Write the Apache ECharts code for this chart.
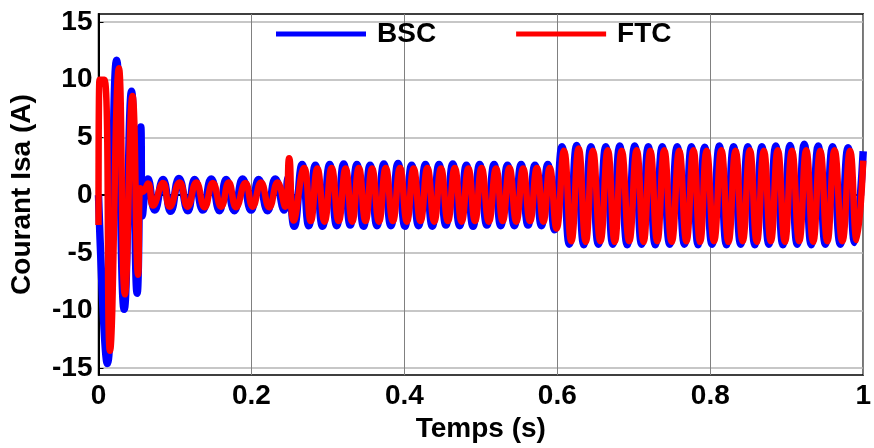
<!DOCTYPE html>
<html>
<head>
<meta charset="utf-8">
<script src="https://cdn.jsdelivr.net/npm/echarts@6.0.0/dist/echarts.min.js"></script>
<style>
  html, body { margin: 0; padding: 0; background: #fff; }
  #chart { width: 874px; height: 448px; }
</style>
</head>
<body>
<div id="chart"></div>
<script>
// valeurs : [temps (s), courant (A)], pics et creux
var yTicks = [-15, -10, -5, 0, 5, 10, 15];
var seriesNames = ['BSC', 'FTC'];

// BSC (bleu)
var bscStart = [[0, 0], [0.0115, -14.6], [0.0237, 11.7], [0.0336, -9.9], [0.0432, 9.0],
  [0.0505, -8.5], [0.0553, 5.9], [0.0573, -1.8]];
var bscNoLoad = [[0.0648, 1.4], [0.0736, -1.3], [0.0844, 1.35], [0.0944, -1.4], [0.1052, 1.45],
  [0.1169, -1.35], [0.1257, 1.35], [0.1365, -1.3], [0.1474, 1.4], [0.1582, -1.35], [0.1669, 1.35],
  [0.1777, -1.35], [0.1885, 1.4], [0.1995, -1.3], [0.2094, 1.35], [0.2211, -1.35], [0.2311, 1.4],
  [0.2428, -1.3]];
var bscLoad1 = [[0.2480, 1.5], [0.2559, -2.7], [0.2663, 2.65], [0.2750, -2.65], [0.2836, 2.6],
  [0.2930, -2.7], [0.3023, 2.65], [0.3115, -2.65], [0.3206, 2.7], [0.3292, -2.6], [0.3379, 2.65],
  [0.3466, -2.7], [0.3552, 2.6], [0.3642, -2.65], [0.3731, 2.7], [0.3824, -2.65], [0.3917, 2.75],
  [0.4007, -2.7], [0.4095, 2.6], [0.4185, -2.65], [0.4275, 2.65], [0.4365, -2.7], [0.4453, 2.65],
  [0.4543, -2.6], [0.4633, 2.7], [0.4723, -2.65], [0.4811, 2.6], [0.4898, -2.7], [0.4984, 2.65],
  [0.5079, -2.6], [0.5173, 2.65], [0.5260, -2.65], [0.5348, 2.6], [0.5438, -2.65], [0.5527, 2.65],
  [0.5617, -2.6], [0.5707, 2.6], [0.5792, -2.65], [0.5875, 2.65], [0.5964, -3.0]];
var bscLoad2 = [[0.6061, 4.2], [0.6157, -4.25], [0.6253, 4.3], [0.6346, -4.3], [0.6439, 4.2],
  [0.6537, -4.25], [0.6634, 4.2], [0.6725, -4.25], [0.6816, 4.25], [0.6914, -4.3], [0.7012, 4.25],
  [0.7102, -4.25], [0.7190, 4.2], [0.7281, -4.3], [0.7372, 4.2], [0.7470, -4.25], [0.7568, 4.2],
  [0.7662, -4.25], [0.7754, 4.2], [0.7841, -4.3], [0.7927, 4.15], [0.8023, -4.25], [0.8119, 4.25],
  [0.8212, -4.3], [0.8305, 4.2], [0.8398, -4.25], [0.8492, 4.2], [0.8583, -4.3], [0.8675, 4.2],
  [0.8766, -4.25], [0.8857, 4.25], [0.8950, -4.3], [0.9043, 4.3], [0.9137, -4.25], [0.9229, 4.4],
  [0.9320, -4.3], [0.9412, 4.25], [0.9505, -4.25], [0.9599, 4.2], [0.9701, -4.25], [0.9802, 4.1],
  [0.9889, -4.1], [1.0, 3.8]];

// FTC (rouge)
var ftcStart = [[0, -2.6], [0.0013, 10.0], [0.0078, 10.0], [0.0150, -13.5], [0.0267, 11.0],
  [0.0345, -8.6], [0.0445, 8.6], [0.0518, -6.9], [0.0547, 0.6], [0.0580, 0.3]];
var ftcNoLoad = [[0.0648, 1.0], [0.0714, -0.9], [0.0844, 1.05], [0.0931, -1.0], [0.1061, 1.1],
  [0.1165, -1.0], [0.1279, 1.1], [0.1387, -1.05], [0.1495, 1.05], [0.1604, -1.0], [0.1703, 1.1],
  [0.1799, -1.05], [0.1921, 1.05], [0.2016, -1.0], [0.2125, 1.1], [0.2233, -1.05], [0.2341, 1.1],
  [0.2441, -1.0]];
var ftcLoad1 = [[0.2493, 3.2], [0.2552, -2.2], [0.2689, 2.35], [0.2776, -2.25], [0.2862, 2.3],
  [0.2956, -2.3], [0.3049, 2.35], [0.3141, -2.25], [0.3232, 2.3], [0.3318, -2.3], [0.3405, 2.35],
  [0.3492, -2.25], [0.3578, 2.3], [0.3668, -2.3], [0.3757, 2.35], [0.3850, -2.25], [0.3943, 2.35],
  [0.4033, -2.3], [0.4121, 2.3], [0.4211, -2.25], [0.4301, 2.35], [0.4391, -2.3], [0.4479, 2.3],
  [0.4569, -2.25], [0.4659, 2.35], [0.4749, -2.3], [0.4837, 2.3], [0.4924, -2.25], [0.5010, 2.35],
  [0.5105, -2.3], [0.5199, 2.3], [0.5286, -2.25], [0.5374, 2.35], [0.5464, -2.3], [0.5553, 2.3],
  [0.5643, -2.25], [0.5733, 2.35], [0.5818, -2.3], [0.5901, 2.35], [0.5990, -2.9]];
var ftcLoad2 = [[0.6087, 3.85], [0.6183, -4.0], [0.6279, 4.05], [0.6372, -4.05], [0.6465, 3.85],
  [0.6563, -4.0], [0.6660, 3.9], [0.6751, -4.05], [0.6842, 3.85], [0.6940, -4.0], [0.7038, 3.9],
  [0.7128, -4.05], [0.7216, 3.85], [0.7307, -4.0], [0.7398, 3.9], [0.7496, -4.05], [0.7594, 3.85],
  [0.7688, -4.0], [0.7780, 3.9], [0.7867, -4.05], [0.7953, 3.85], [0.8049, -4.0], [0.8145, 3.9],
  [0.8238, -4.05], [0.8331, 3.85], [0.8424, -4.0], [0.8518, 3.9], [0.8609, -4.05], [0.8701, 3.85],
  [0.8792, -4.0], [0.8883, 3.9], [0.8976, -4.05], [0.9069, 3.85], [0.9163, -4.0], [0.9255, 3.9],
  [0.9346, -4.05], [0.9438, 3.85], [0.9531, -4.0], [0.9625, 3.9], [0.9727, -4.0], [0.9828, 3.85],
  [0.9915, -3.9], [1.0, 3.0]];

var bscData = bscStart.concat(bscNoLoad, bscLoad1, bscLoad2);
var ftcData = ftcStart.concat(ftcNoLoad, ftcLoad1, ftcLoad2);

var font = 'Liberation Sans, Arial, sans-serif';
var chart = echarts.init(document.getElementById('chart'));
chart.setOption({
  animation: false,
  backgroundColor: '#fff',
  grid: {
    left: 98.5, right: 7.5, top: 14, bottom: 70,
    show: true, borderColor: '#000', borderWidth: 1.5
  },
  legend: {
    data: seriesNames,
    left: 276, top: 20, padding: 0,
    icon: 'rect', itemWidth: 90, itemHeight: 5, itemGap: 80,
    textStyle: { fontFamily: font, fontWeight: 'bold', fontSize: 28, color: '#000', padding: [0, 0, 0, 6] }
  },
  xAxis: {
    type: 'value', min: 0, max: 1, interval: 0.2,
    name: 'Temps (s)', nameLocation: 'middle', nameGap: 30,
    nameTextStyle: { fontFamily: font, fontWeight: 'bold', fontSize: 28, color: '#000' },
    axisLine: { lineStyle: { color: '#000', width: 2 } },
    axisTick: { inside: true, length: 5, lineStyle: { color: '#000' } },
    axisLabel: { fontFamily: font, fontWeight: 'bold', fontSize: 28, color: '#000', margin: 7, showMinLabel: true, showMaxLabel: true },
    splitLine: { show: true, lineStyle: { color: '#808080', width: 1 } }
  },
  yAxis: {
    type: 'value', min: -15.6, max: 15.7,
    name: 'Courant Isa (A)', nameLocation: 'middle', nameGap: 62,
    nameTextStyle: { fontFamily: font, fontWeight: 'bold', fontSize: 28, color: '#000' },
    axisLine: { show: true, lineStyle: { color: '#000', width: 2 } },
    axisTick: { show: true, inside: true, length: 5, customValues: yTicks, lineStyle: { color: '#000' } },
    axisLabel: { customValues: yTicks, fontFamily: font, fontWeight: 'bold', fontSize: 28, color: '#000', margin: 6 },
    splitLine: { show: true, lineStyle: { color: '#b4b4b4', width: 1.5 } }
  },
  series: [
    {
      name: 'BSC', type: 'line', data: bscData, smooth: 0.5, showSymbol: false,
      color: '#0000ff', lineStyle: { color: '#0000ff', width: 7.5 }
    },
    {
      name: 'FTC', type: 'line', data: ftcData, smooth: 0.5, showSymbol: false,
      color: '#ff0000', lineStyle: { color: '#ff0000', width: 6.5 }
    }
  ]
});
</script>
</body>
</html>
